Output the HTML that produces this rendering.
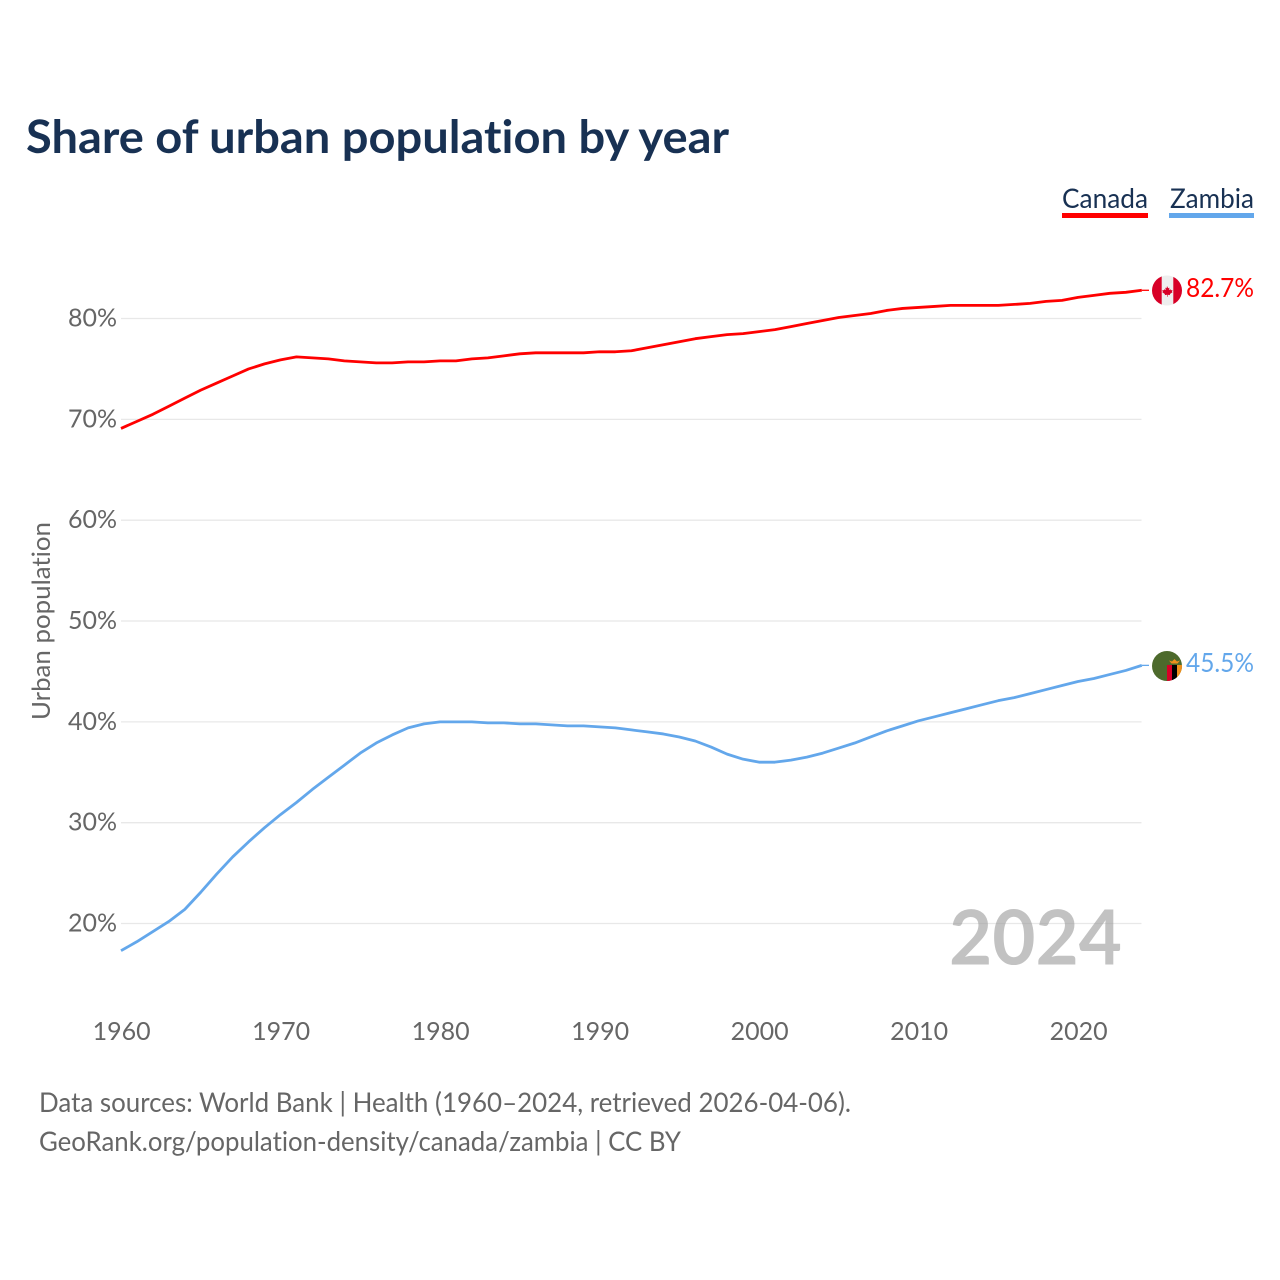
<!DOCTYPE html>
<html lang="en">
<head>
<meta charset="utf-8">
<title>Share of urban population by year</title>
<style>
html,body{margin:0;padding:0;background:#fff;width:1280px;height:1280px;overflow:hidden}
svg{display:block}
text{font-family:"Lato","Carlito","Liberation Sans",sans-serif;font-variant-ligatures:none;font-feature-settings:"liga" 0,"clig" 0}
</style>
</head>
<body>
<svg id="chart" xmlns="http://www.w3.org/2000/svg" width="1280" height="1280" viewBox="0 0 1280 1280">
<rect width="1280" height="1280" fill="#fff"/>
<text x="26" y="153" font-size="46" font-weight="700" fill="#183153" textLength="703" lengthAdjust="spacingAndGlyphs">Share of urban population by year</text>
<g id="legend">
<g>
<text x="1062" y="208" font-size="27" fill="#183153" textLength="86" lengthAdjust="spacingAndGlyphs">Canada</text>
<rect x="1062" y="213" width="86" height="5" fill="#ff0000"/>
</g>
<g>
<text x="1170" y="208" font-size="27" fill="#183153" textLength="84" lengthAdjust="spacingAndGlyphs">Zambia</text>
<rect x="1169" y="213" width="85" height="5" fill="#63a7eb"/>
</g>
</g>
<g id="grid"></g>
<g id="yticks"></g>
<g id="xticks"></g>
<text transform="translate(50,621) rotate(-90)" text-anchor="middle" font-size="25" fill="#666" textLength="198" lengthAdjust="spacingAndGlyphs">Urban population</text>
<text x="949" y="964.5" font-size="76" font-weight="700" fill="#999" fill-opacity="0.6" textLength="173" lengthAdjust="spacingAndGlyphs">2024</text>
<g id="series"></g>
<g>
<clipPath id="cf"><circle cx="1167" cy="290.5" r="15"/></clipPath>
<g clip-path="url(#cf)">
<rect x="1152" y="275" width="30" height="31" fill="#eeeeee"/>
<rect x="1152" y="275" width="9.7" height="31" fill="#d80027"/>
<rect x="1173.3" y="275" width="9" height="31" fill="#d80027"/>
<path d="M1167 286l1.2 2.2 1.3-.6-.5 2.5 1.5-.9.4 1 1.6-.2-.5 1.7.6.4-2.8 2 .3 1-2.4-.3v1.9h-.6v-1.9l-2.4.3.3-1-2.8-2 .6-.4-.5-1.7 1.6.2.4-1 1.5.9-.5-2.5 1.3.6z" fill="#d80027"/>
</g>
</g>
<g>
<clipPath id="zf"><circle cx="1167" cy="666" r="15"/></clipPath>
<g clip-path="url(#zf)">
<rect x="1152" y="651" width="30" height="30" fill="#4d6a2c"/>
<rect x="1167" y="665" width="5" height="17" fill="#d80027"/>
<rect x="1172" y="665" width="5" height="17" fill="#000"/>
<rect x="1177" y="665" width="5" height="17" fill="#ef8f1c"/>
<path d="M1169 660.5l3 1 2.5-2.5 2.5 2.5 3-1-2.5 3h-6z" fill="#ef8f1c"/>
</g>
</g>
<text id="label-canada" x="1186" y="297" font-size="26" fill="#ff0000" textLength="68" lengthAdjust="spacingAndGlyphs"></text>
<text id="label-zambia" x="1186" y="672" font-size="26" fill="#63a7eb" textLength="68" lengthAdjust="spacingAndGlyphs"></text>
<text x="39" y="1112" font-size="27" fill="#666" textLength="812" lengthAdjust="spacingAndGlyphs">Data sources: World Bank | Health (1960–2024, retrieved 2026-04-06).</text>
<text x="39" y="1151" font-size="27" fill="#666" textLength="642" lengthAdjust="spacingAndGlyphs">GeoRank.org/population-density/canada/zambia | CC BY</text>
</svg>
<script>
const years = [1960,1961,1962,1963,1964,1965,1966,1967,1968,1969,1970,1971,1972,1973,1974,1975,1976,1977,1978,1979,1980,1981,1982,1983,1984,1985,1986,1987,1988,1989,1990,1991,1992,1993,1994,1995,1996,1997,1998,1999,2000,2001,2002,2003,2004,2005,2006,2007,2008,2009,2010,2011,2012,2013,2014,2015,2016,2017,2018,2019,2020,2021,2022,2023,2024];
const canadaValues = [69.1,69.8,70.5,71.3,72.1,72.9,73.6,74.3,75.0,75.5,75.9,76.2,76.1,76.0,75.8,75.7,75.6,75.6,75.7,75.7,75.8,75.8,76.0,76.1,76.3,76.5,76.6,76.6,76.6,76.6,76.7,76.7,76.8,77.1,77.4,77.7,78.0,78.2,78.4,78.5,78.7,78.9,79.2,79.5,79.8,80.1,80.3,80.5,80.8,81.0,81.1,81.2,81.3,81.3,81.3,81.3,81.4,81.5,81.7,81.8,82.1,82.3,82.5,82.6,82.8];
const zambiaValues = [17.3,18.2,19.2,20.2,21.4,23.1,24.9,26.6,28.1,29.5,30.8,32.0,33.3,34.5,35.7,36.9,37.9,38.7,39.4,39.8,40.0,40.0,40.0,39.9,39.9,39.8,39.8,39.7,39.6,39.6,39.5,39.4,39.2,39.0,38.8,38.5,38.1,37.5,36.8,36.3,36.0,36.0,36.2,36.5,36.9,37.4,37.9,38.5,39.1,39.6,40.1,40.5,40.9,41.3,41.7,42.1,42.4,42.8,43.2,43.6,44.0,44.3,44.7,45.1,45.6];
const yTickValues = [20,30,40,50,60,70,80];
const xTickValues = [1960,1970,1980,1990,2000,2010,2020];
const endLabels = {canada:"82.7%",zambia:"45.5%"};
const NS = "http://www.w3.org/2000/svg";
const xScale = y => 121 + (y - 1960) * 15.95;
const yScale = v => 923.5 - (v - 20) * 10.083;
function make(tag, attrs, parent, txt){
  const el = document.createElementNS(NS, tag);
  for (const k in attrs) el.setAttribute(k, attrs[k]);
  if (txt !== undefined) el.textContent = txt;
  parent.appendChild(el);
  return el;
}
const grid = document.getElementById('grid');
const yT = document.getElementById('yticks');
const xT = document.getElementById('xticks');
const series = document.getElementById('series');
yTickValues.forEach(v => {
  const l = make('line', {x1:121, x2:1141.5, y1:yScale(v), y2:yScale(v), stroke:'#e8e8e8', 'stroke-width':1.3}, grid);
  
  
  const t = make('text', {x:117, y:yScale(v)+8, 'text-anchor':'end', 'font-size':25, fill:'#666'}, yT, v + '%');
  
  
});
xTickValues.forEach(y => {
  const t = make('text', {x:xScale(y)+0.6, y:1040, 'text-anchor':'middle', 'font-size':25, fill:'#666'}, xT, String(y));
  
  
});
function drawLine(vals, color, name){
  const d = vals.map((v,i) => (i ? 'L' : 'M') + xScale(years[i]).toFixed(2) + ' ' + yScale(v).toFixed(2)).join('');
  const p = make('path', {d, fill:'none', stroke:color, 'stroke-width':2.8, 'stroke-linejoin':'round'}, series);
  
  
  const last = vals[vals.length-1];
  const c = make('path', {d:'M' + xScale(years[years.length-1]) + ' ' + yScale(last) + 'H1149', fill:'none', stroke:color, 'stroke-width':1.3}, series);
  
  
}
drawLine(canadaValues, '#ff0000', 'canada-line');
drawLine(zambiaValues, '#63a7eb', 'zambia-line');
document.getElementById('label-canada').textContent = endLabels.canada;
document.getElementById('label-zambia').textContent = endLabels.zambia;
</script>
</body>
</html>
